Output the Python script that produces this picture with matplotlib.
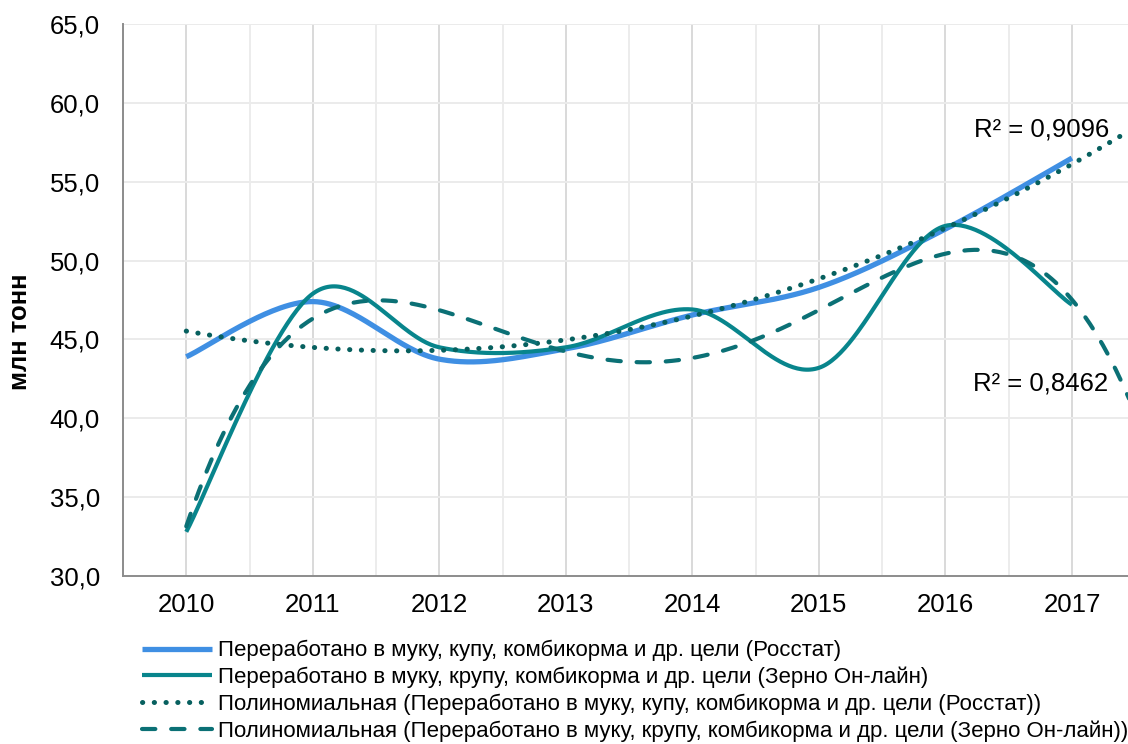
import numpy as np
import matplotlib
matplotlib.use("Agg")
import matplotlib.pyplot as plt
from matplotlib.ticker import MultipleLocator, FuncFormatter

plt.rcParams['font.family'] = ['Liberation Sans', 'DejaVu Sans']

years = ['2010', '2011', '2012', '2013', '2014', '2015', '2016', '2017']
rosstat = [43.9, 47.4, 43.75, 44.4, 46.55, 48.3, 52.0, 56.5]
zerno = [32.8, 47.9, 44.5, 44.5, 46.9, 43.2, 52.2, 47.2]
labels = [
    'Переработано в муку, купу, комбикорма и др. цели (Росстат)',
    'Переработано в муку, крупу, комбикорма и др. цели (Зерно Он-лайн)',
    'Полиномиальная (Переработано в муку, купу, комбикорма и др. цели (Росстат))',
    'Полиномиальная (Переработано в муку, крупу, комбикорма и др. цели (Зерно Он-лайн))',
]
r2_texts = ['R² = 0,9096', 'R² = 0,8462']

C_BLUE = '#3f8fe3'
C_TEAL = '#08858c'
C_DOT = '#07605f'
C_DASH = '#0b7075'


def smooth(xs, ys, n=60):
    P = np.column_stack([xs, ys]).astype(float)
    m = len(P)
    out = []
    t = np.linspace(0, 1, n)[:, None]
    for i in range(m - 1):
        p0 = P[max(i - 1, 0)]
        p1 = P[i]
        p2 = P[i + 1]
        p3 = P[min(i + 2, m - 1)]
        b1 = p1 + (p2 - p0) / 6.0
        b2 = p2 - (p3 - p1) / 6.0
        seg = ((1 - t) ** 3) * p1 + 3 * ((1 - t) ** 2) * t * b1 + 3 * (1 - t) * t ** 2 * b2 + t ** 3 * p2
        out.append(seg if i == 0 else seg[1:])
    out = np.vstack(out)
    return out[:, 0], out[:, 1]


fig = plt.figure(figsize=(11.28, 7.44), dpi=100)
ax = fig.add_axes([123 / 1128, 1 - 576 / 744, 1005 / 1128, 552 / 744])

x = np.arange(len(years))

# gridlines
ax.set_axisbelow(True)
for v in np.arange(-0.5, 7.6, 0.5):
    if abs(v - round(v)) < 1e-9:
        ax.axvline(v, color='#d9d9d9', lw=1.4, zorder=0)
    else:
        ax.axvline(v, color='#ececec', lw=1.4, zorder=0)
for v in range(35, 66, 5):
    ax.axhline(v, color='#ebebeb', lw=1.4, zorder=0)

sx, sy = smooth(x, rosstat)
ax.plot(sx, sy, color=C_BLUE, lw=3.8, solid_capstyle='butt', label=labels[0], zorder=3)
sx, sy = smooth(x, zerno)
ax.plot(sx, sy, color=C_TEAL, lw=3.0, solid_capstyle='butt', label=labels[1], zorder=4)

xt = np.linspace(0, 7.6, 300)
c1 = np.polyfit(x, rosstat, 2)
ax.plot(xt, np.polyval(c1, xt), color=C_DOT, lw=3.6, linestyle=(0, (0.05, 2.3)),
        dash_capstyle='round', label=labels[2], zorder=5)
c2 = np.polyfit(x, zerno, 4)
ax.plot(xt, np.polyval(c2, xt), color=C_DASH, lw=3.0, linestyle=(0, (3.2, 3.8)),
        dash_capstyle='round', label=labels[3], zorder=5)

ax.set_xlim(-0.5, 7.443)
ax.set_ylim(30, 65)
ax.set_xticks(x)
ax.set_xticklabels(years)
ax.yaxis.set_major_locator(MultipleLocator(5))
ax.yaxis.set_major_formatter(FuncFormatter(lambda v, p: f'{v:.1f}'.replace('.', ',')))
ax.tick_params(axis='both', length=0, labelsize=18.5, colors='#000000')
ax.tick_params(axis='y', pad=16.5)
ax.tick_params(axis='x', pad=12)

for s in ['top', 'right']:
    ax.spines[s].set_visible(False)
for s in ['left', 'bottom']:
    ax.spines[s].set_color('#8c8c8c')
    ax.spines[s].set_linewidth(1.4)

fig.text(20 / 1128, 1 - 332 / 744, 'млн тонн', rotation=90, fontsize=18.5, fontweight='bold',
         ha='center', va='center')

fig.text(1042 / 1128, 1 - 130 / 744, r2_texts[0], fontsize=18.5, ha='center', va='center')
fig.text(1041 / 1128, 1 - 383 / 744, r2_texts[1], fontsize=18.5, ha='center', va='center')

leg = fig.legend(loc='upper left', bbox_to_anchor=(142 / 1128, 1 - 640 / 744), frameon=False,
                 fontsize=16, handlelength=3.15, handletextpad=0.27, labelspacing=0.24,
                 borderpad=0, borderaxespad=0)

fig.savefig('out.png', dpi=100)
